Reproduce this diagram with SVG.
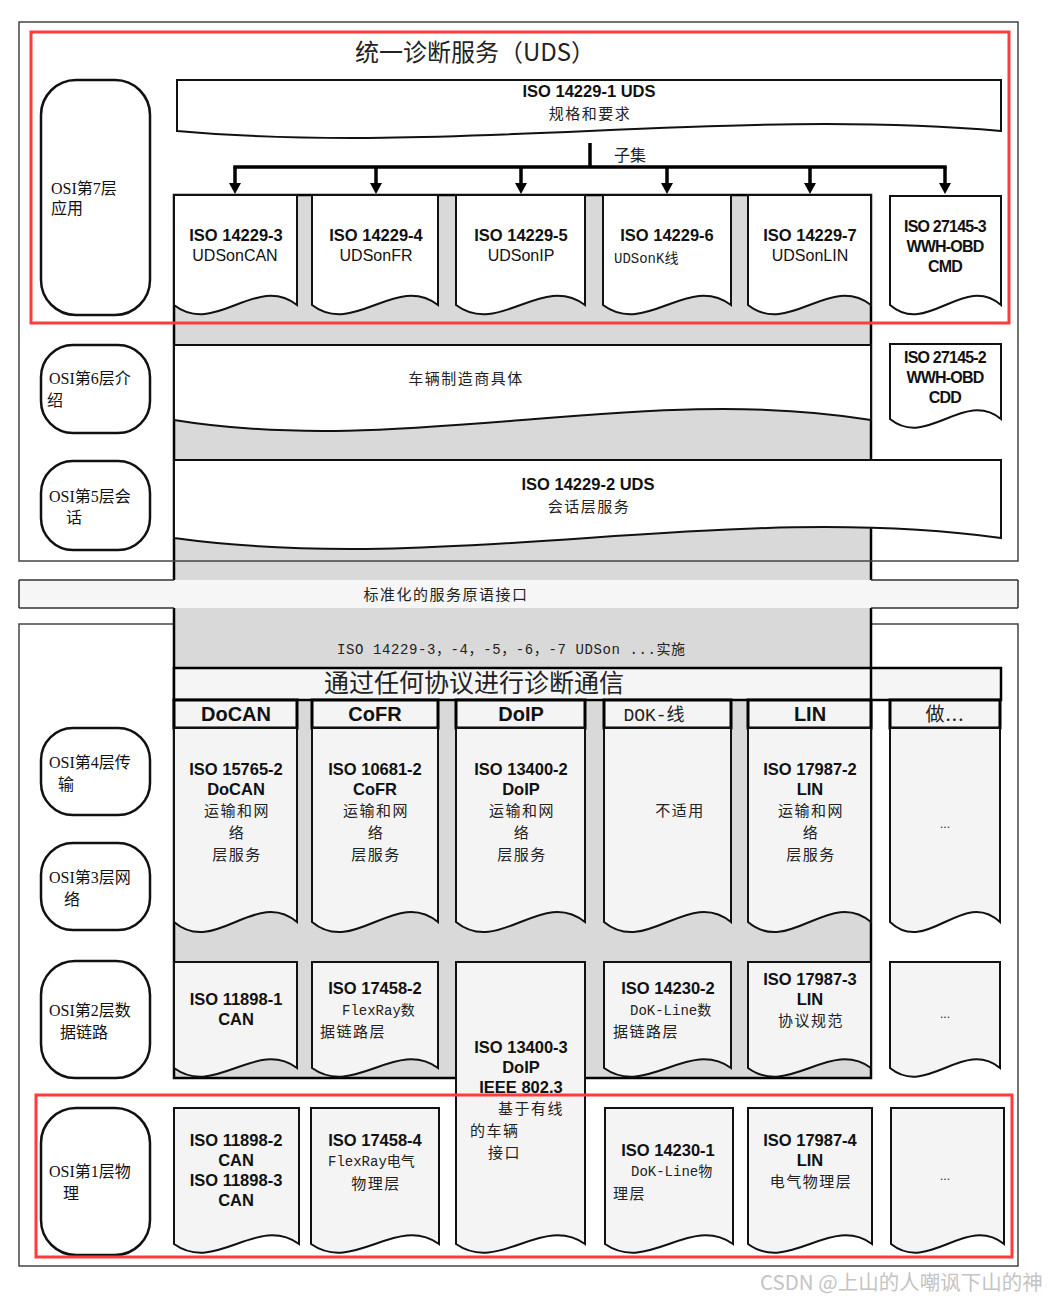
<svg xmlns="http://www.w3.org/2000/svg" width="1050" height="1300" viewBox="0 0 1050 1300">
<defs>
<marker id="ah" viewBox="0 0 11 12" refX="1" refY="6" markerWidth="11" markerHeight="12" markerUnits="userSpaceOnUse" orient="auto"><path d="M0 0 L11 6 L0 12 Z" fill="#000"/></marker>
<style>
.frame{fill:none;stroke:#444;stroke-width:1.5}
.pill{fill:#fff;stroke:#111;stroke-width:2.5}
.doc{fill:#fff;stroke:#111;stroke-width:2}
.docl{fill:#f4f4f4;stroke:#111;stroke-width:2}
.hdr{fill:#f4f4f4;stroke:#000;stroke-width:3}
.red{fill:none;stroke:#ff3b3b;stroke-width:3}
.b{font-family:"Liberation Sans",Arial,sans-serif;font-weight:bold;font-size:16.5px;fill:#111;text-anchor:middle}
.bc{font-family:"Liberation Sans",Arial,sans-serif;font-weight:bold;font-size:16px;fill:#111;text-anchor:middle;letter-spacing:-0.8px}
.h{font-family:"Liberation Sans",Arial,sans-serif;font-weight:bold;font-size:20px;fill:#111;text-anchor:middle}
.r{font-family:"Liberation Sans",Arial,sans-serif;font-size:16px;fill:#111;text-anchor:middle}
.c{font-family:"Noto Sans CJK SC",sans-serif;font-size:15px;fill:#222;letter-spacing:1.5px}
.cm{text-anchor:middle}
.osi{font-family:"Liberation Serif","Noto Sans CJK SC",serif;font-size:16px;fill:#111}
.m{font-family:"Liberation Mono","Noto Sans CJK SC",monospace;font-size:14px;fill:#222}
.dok{font-family:"Liberation Mono","Noto Sans CJK SC",monospace;font-size:18px;fill:#222;text-anchor:middle}
.dots{font-family:"Liberation Sans",sans-serif;font-size:12px;fill:#222;text-anchor:middle}
</style>
</defs>
<rect width="1050" height="1300" fill="#fff"/>

<!-- frames and column -->
<rect id="lower-frame" class="frame" x="19" y="624" width="999" height="642"/>
<rect id="column" x="174" y="195" width="697" height="883" fill="#d9d9d9" stroke="#000" stroke-width="2.5"/>
<rect id="upper-frame" class="frame" x="19" y="22" width="999" height="539"/>
<g id="band">
<rect x="19" y="580" width="999" height="28" fill="#f5f6f5"/>
<path d="M19 580 H174 M871 580 H1018 M19 608 H174 M871 608 H1018 M19 580 V608 M1018 580 V608" stroke="#333" stroke-width="1.5" fill="none"/>
<text class="c cm" x="446" y="600">标准化的服务原语接口</text>
</g>

<text id="title" x="355" y="61" font-family="Noto Sans CJK SC, sans-serif" font-size="24" fill="#222">统一诊断服务（UDS）</text>

<!-- OSI pills -->
<g id="osi7"><rect class="pill" x="41" y="80" width="109" height="235" rx="35"/><text class="osi" x="51" y="194">OSI第7层</text><text class="osi" x="51" y="214">应用</text></g>
<g id="osi6"><rect class="pill" x="41" y="345" width="109" height="88" rx="32"/><text class="osi" x="49" y="384">OSI第6层介</text><text class="osi" x="47" y="406">绍</text></g>
<g id="osi5"><rect class="pill" x="41" y="461" width="109" height="89" rx="32"/><text class="osi" x="49" y="502">OSI第5层会</text><text class="osi" x="66" y="523">话</text></g>
<g id="osi4"><rect class="pill" x="41" y="728" width="109" height="87" rx="32"/><text class="osi" x="49" y="768">OSI第4层传</text><text class="osi" x="58" y="790">输</text></g>
<g id="osi3"><rect class="pill" x="41" y="843" width="109" height="87" rx="32"/><text class="osi" x="49" y="883">OSI第3层网</text><text class="osi" x="64" y="905">络</text></g>
<g id="osi2"><rect class="pill" x="41" y="961" width="109" height="117" rx="34"/><text class="osi" x="49" y="1016">OSI第2层数</text><text class="osi" x="60" y="1038">据链路</text></g>
<g id="osi1"><rect class="pill" x="41" y="1108" width="109" height="147" rx="35"/><text class="osi" x="49" y="1177">OSI第1层物</text><text class="osi" x="63" y="1199">理</text></g>

<!-- top banner -->
<g id="iso14229-1"><path class="doc" d="M177 80 H1001 V131 C726 107 452 155 177 131 Z"/><text class="b" x="589" y="97">ISO 14229-1 UDS</text><text class="c cm" x="590" y="119">规格和要求</text></g>

<!-- connectors -->
<g id="connectors" stroke="#000" stroke-width="3.5" fill="none">
<path d="M590 143 V167"/>
<path d="M233.3 167 H946.7"/>
<path d="M235 167 V184" marker-end="url(#ah)"/>
<path d="M376 167 V184" marker-end="url(#ah)"/>
<path d="M521 167 V184" marker-end="url(#ah)"/>
<path d="M667 167 V184" marker-end="url(#ah)"/>
<path d="M810 167 V184" marker-end="url(#ah)"/>
<path d="M945 167 V184" marker-end="url(#ah)"/>
</g>
<text x="614" y="161" font-family="Noto Sans CJK SC, sans-serif" font-size="16" fill="#222">子集</text>

<!-- top row -->
<g id="iso14229-3"><path class="doc" d="M174 195 H297 V305 C256 273 215 337 174 305 Z"/><text class="b" x="236" y="241">ISO 14229-3</text><text class="r" x="235" y="261">UDSonCAN</text></g>
<g id="iso14229-4"><path class="doc" d="M312 195 H438 V305 C396 273 354 337 312 305 Z"/><text class="b" x="376" y="241">ISO 14229-4</text><text class="r" x="376" y="261">UDSonFR</text></g>
<g id="iso14229-5"><path class="doc" d="M456 195 H585 V305 C542 273 499 337 456 305 Z"/><text class="b" x="521" y="241">ISO 14229-5</text><text class="r" x="521" y="261">UDSonIP</text></g>
<g id="iso14229-6"><path class="doc" d="M603 195 H731 V305 C688 273 646 337 603 305 Z"/><text class="b" x="667" y="241">ISO 14229-6</text><text class="m" x="614" y="263">UDSonK线</text></g>
<g id="iso14229-7"><path class="doc" d="M748 195 H871 V305 C830 273 789 337 748 305 Z"/><text class="b" x="810" y="241">ISO 14229-7</text><text class="r" x="810" y="261">UDSonLIN</text></g>
<g id="iso27145-3"><path class="doc" d="M890 196 H1001 V305 C964 273 927 337 890 305 Z"/><text class="bc" x="945" y="232">ISO 27145-3</text><text class="bc" x="945" y="252">WWH-OBD</text><text class="bc" x="945" y="272">CMD</text></g>

<!-- layer 6 / 5 -->
<g id="oem-specific"><path class="doc" d="M174 345 H871 V420 C639 382 406 458 174 420 Z"/><text class="c cm" x="466" y="384">车辆制造商具体</text></g>
<g id="iso27145-2"><path class="doc" d="M890 344 H1001 V419 C964 389 927 449 890 419 Z"/><text class="bc" x="945" y="363">ISO 27145-2</text><text class="bc" x="945" y="383">WWH-OBD</text><text class="bc" x="945" y="403">CDD</text></g>
<g id="iso14229-2"><path class="doc" d="M174 460 H1001 V538 C725 500 450 576 174 538 Z"/><text class="b" x="588" y="490">ISO 14229-2 UDS</text><text class="c cm" x="589" y="512">会话层服务</text></g>

<!-- lower -->
<text x="511" y="654" class="m" text-anchor="middle" textLength="348" lengthAdjust="spacing">ISO 14229-3，-4，-5，-6，-7 UDSon ...实施</text>
<g id="any-protocol"><rect x="174" y="668" width="827" height="32" fill="#f5f5f5" stroke="#000" stroke-width="2.5"/><path d="M871 668 V700" stroke="#000" stroke-width="2.5"/><text x="474" y="692" font-family="Noto Sans CJK SC, sans-serif" font-size="25" fill="#222" text-anchor="middle">通过任何协议进行诊断通信</text></g>

<g id="hdr-docan"><rect class="hdr" x="174" y="700" width="123" height="28"/><text class="h" x="236" y="721">DoCAN</text></g>
<g id="hdr-cofr"><rect class="hdr" x="312" y="700" width="126" height="28"/><text class="h" x="375" y="721">CoFR</text></g>
<g id="hdr-doip"><rect class="hdr" x="456" y="700" width="129" height="28"/><text class="h" x="521" y="721">DoIP</text></g>
<g id="hdr-dok"><rect class="hdr" x="604" y="700" width="127" height="28"/><text class="dok" x="654" y="721">DOK-线</text></g>
<g id="hdr-lin"><rect class="hdr" x="748" y="700" width="123" height="28"/><text class="h" x="810" y="721">LIN</text></g>
<g id="hdr-etc"><rect class="hdr" x="890" y="700" width="110" height="28"/><text x="945" y="721" font-family="Noto Sans CJK SC, sans-serif" font-size="19" fill="#222" text-anchor="middle" letter-spacing="1">做...</text></g>

<g id="l4-docan"><path class="docl" d="M174 728 H297 V922 C256 887 215 957 174 922 Z"/><text class="b" x="236" y="775">ISO 15765-2</text><text class="b" x="236" y="795">DoCAN</text><text class="c cm" x="237" y="816">运输和网</text><text class="c cm" x="237" y="838">络</text><text class="c cm" x="237" y="860">层服务</text></g>
<g id="l4-cofr"><path class="docl" d="M312 728 H438 V922 C396 887 354 957 312 922 Z"/><text class="b" x="375" y="775">ISO 10681-2</text><text class="b" x="375" y="795">CoFR</text><text class="c cm" x="376" y="816">运输和网</text><text class="c cm" x="376" y="838">络</text><text class="c cm" x="376" y="860">层服务</text></g>
<g id="l4-doip"><path class="docl" d="M456 728 H585 V922 C542 887 499 957 456 922 Z"/><text class="b" x="521" y="775">ISO 13400-2</text><text class="b" x="521" y="795">DoIP</text><text class="c cm" x="522" y="816">运输和网</text><text class="c cm" x="522" y="838">络</text><text class="c cm" x="522" y="860">层服务</text></g>
<g id="l4-dok"><path class="docl" d="M604 728 H731 V922 C689 887 646 957 604 922 Z"/><text class="c cm" x="680" y="816">不适用</text></g>
<g id="l4-lin"><path class="docl" d="M748 728 H871 V922 C830 887 789 957 748 922 Z"/><text class="b" x="810" y="775">ISO 17987-2</text><text class="b" x="810" y="795">LIN</text><text class="c cm" x="811" y="816">运输和网</text><text class="c cm" x="811" y="838">络</text><text class="c cm" x="811" y="860">层服务</text></g>
<g id="l4-etc"><path class="docl" d="M890 728 H1000 V922 C963 887 927 957 890 922 Z"/><text class="dots" x="945" y="828">...</text></g>

<g id="l2-can"><path class="docl" d="M174 962 H297 V1068 C256 1038 215 1098 174 1068 Z"/><text class="b" x="236" y="1005">ISO 11898-1</text><text class="b" x="236" y="1025">CAN</text></g>
<g id="l2-flexray"><path class="docl" d="M312 962 H438 V1068 C396 1038 354 1098 312 1068 Z"/><text class="b" x="375" y="994">ISO 17458-2</text><text class="m" x="342" y="1015">FlexRay数</text><text class="c" x="320" y="1037">据链路层</text></g>
<g id="doip-phy"><path class="docl" d="M456 962 H585 V1244 C542 1214 499 1274 456 1244 Z"/><text class="b" x="521" y="1053">ISO 13400-3</text><text class="b" x="521" y="1073">DoIP</text><text class="b" x="521" y="1093">IEEE 802.3</text><text class="c" x="498" y="1114">基于有线</text><text class="c" x="470" y="1136">的车辆</text><text class="c" x="488" y="1158">接口</text></g>
<g id="l2-dok"><path class="docl" d="M604 962 H731 V1068 C689 1038 646 1098 604 1068 Z"/><text class="b" x="668" y="994">ISO 14230-2</text><text class="m" x="630" y="1015">DoK-Line数</text><text class="c" x="613" y="1037">据链路层</text></g>
<g id="l2-lin"><path class="docl" d="M748 962 H871 V1068 C830 1038 789 1098 748 1068 Z"/><text class="b" x="810" y="985">ISO 17987-3</text><text class="b" x="810" y="1005">LIN</text><text class="c cm" x="811" y="1026">协议规范</text></g>
<g id="l2-etc"><path class="docl" d="M890 962 H1000 V1068 C963 1038 927 1098 890 1068 Z"/><text class="dots" x="945" y="1018">...</text></g>

<g id="l1-can"><path class="docl" d="M174 1108 H299 V1244 C257 1214 216 1274 174 1244 Z"/><text class="b" x="236" y="1146">ISO 11898-2</text><text class="b" x="236" y="1166">CAN</text><text class="b" x="236" y="1186">ISO 11898-3</text><text class="b" x="236" y="1206">CAN</text></g>
<g id="l1-flexray"><path class="docl" d="M311 1108 H439 V1244 C396 1214 354 1274 311 1244 Z"/><text class="b" x="375" y="1146">ISO 17458-4</text><text class="m" x="328" y="1166">FlexRay电气</text><text class="c cm" x="376" y="1189">物理层</text></g>
<g id="l1-dok"><path class="docl" d="M605 1108 H733 V1244 C690 1214 648 1274 605 1244 Z"/><text class="b" x="668" y="1156">ISO 14230-1</text><text class="m" x="631" y="1176">DoK-Line物</text><text class="c" x="613" y="1199">理层</text></g>
<g id="l1-lin"><path class="docl" d="M748 1108 H872 V1244 C831 1214 789 1274 748 1244 Z"/><text class="b" x="810" y="1146">ISO 17987-4</text><text class="b" x="810" y="1166">LIN</text><text class="c cm" x="811" y="1187">电气物理层</text></g>
<g id="l1-etc"><path class="docl" d="M891 1108 H1004 V1244 C966 1214 929 1274 891 1244 Z"/><text class="dots" x="945" y="1180">...</text></g>

<!-- highlight boxes -->
<rect class="red" x="31" y="32" width="978" height="291"/>
<rect class="red" x="36" y="1095" width="976" height="162"/>

<text x="760" y="1290" font-family="Noto Sans CJK SC, sans-serif" font-size="20.5" fill="#c4c4c4">CSDN @上山的人嘲讽下山的神</text>
</svg>
